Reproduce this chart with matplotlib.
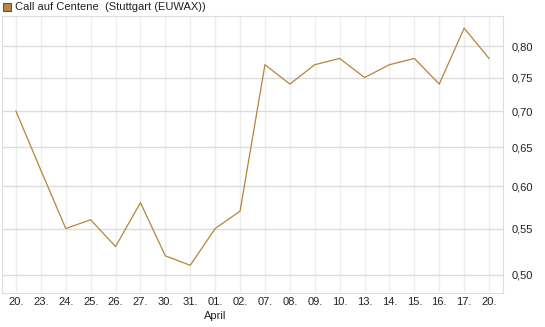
import matplotlib
matplotlib.use('Agg')
import matplotlib.pyplot as plt
from matplotlib.patches import Rectangle
from matplotlib.ticker import FixedLocator, NullLocator

plt.rcParams['font.family'] = ['Liberation Sans', 'DejaVu Sans']

# data
days = ['20.', '23.', '24.', '25.', '26.', '27.', '30.', '31.', '01.', '02.',
        '07.', '08.', '09.', '10.', '13.', '14.', '15.', '16.', '17.', '20.']
prices = [0.70, 0.62, 0.55, 0.56, 0.53, 0.58, 0.52, 0.51, 0.55, 0.57,
          0.77, 0.74, 0.77, 0.78, 0.75, 0.77, 0.78, 0.74, 0.83, 0.78]
yticks = [0.50, 0.55, 0.60, 0.65, 0.70, 0.75, 0.80]
ylabels = ['0,50', '0,55', '0,60', '0,65', '0,70', '0,75', '0,80']
title = 'Call auf Centene  (Stuttgart (EUWAX))'
line_col = '#b5853a'

W, H = 545, 327
fig = plt.figure(figsize=(W / 100, H / 100), dpi=100)
ax = fig.add_axes([2 / W, 1 - 293 / H, 501 / W, 277 / H])

x = list(range(len(prices)))
ax.plot(x, prices, color=line_col, lw=0.9)

ax.set_yscale('log')
ax.set_ylim(0.4818, 0.851)
ax.set_xlim(-0.56, len(prices) - 1 + 0.56)

ax.yaxis.set_major_locator(FixedLocator(yticks))
ax.yaxis.set_minor_locator(NullLocator())
ax.set_yticklabels(ylabels)
ax.yaxis.tick_right()
ax.set_xticks(x)
ax.set_xticklabels(days)

ax.tick_params(axis='both', length=0, labelsize=8, colors='#222222')
ax.tick_params(axis='y', pad=6)
ax.tick_params(axis='x', pad=3)

ax.grid(axis='x', color='#eeeeee', lw=1)
ax.grid(axis='y', color='#dddddd', lw=1)
ax.set_axisbelow(True)
for s in ax.spines.values():
    s.set_color('#dddddd')

# month marker under the 01. tick
ax.annotate('April', xy=(8, 1 - 316 / H), xycoords=('data', 'figure fraction'),
            ha='center', va='center', fontsize=8, color='#222222',
            annotation_clip=False)

# legend box at top left
fig.patches.append(Rectangle((3 / W, 1 - 11 / H), 8 / W, 8 / H,
                             transform=fig.transFigure, facecolor='#b5874a',
                             edgecolor='#555555', lw=0.8))
fig.text(15 / W, 1 - 7 / H, title, ha='left', va='center', fontsize=8,
         color='#222222')

fig.savefig('out.png', dpi=100)
